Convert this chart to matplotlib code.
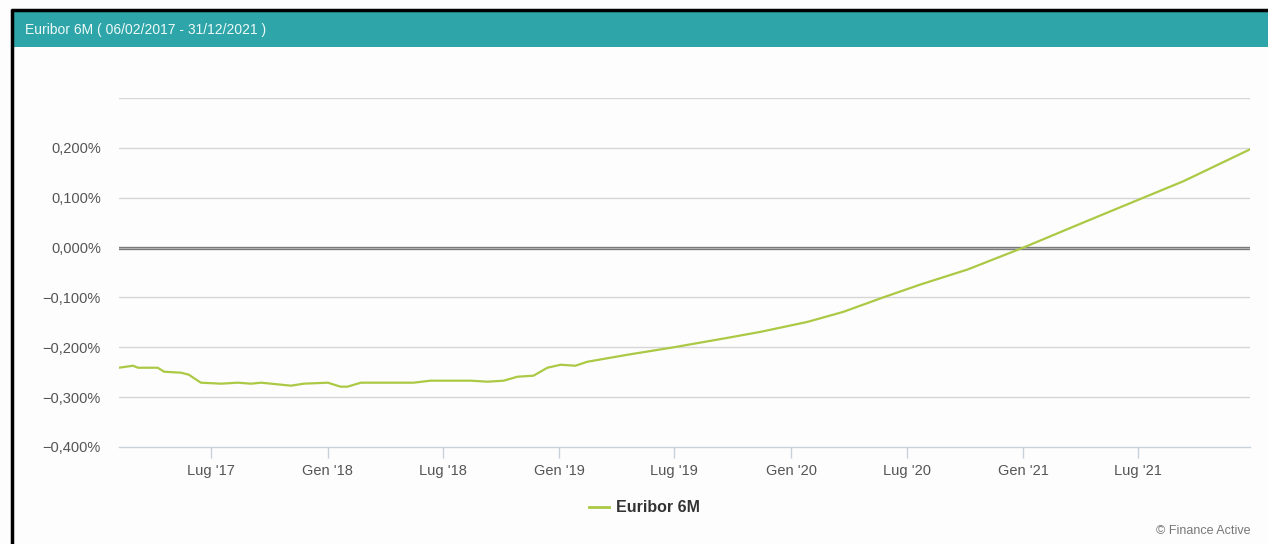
import numpy as np
import pandas as pd
import matplotlib
matplotlib.use("Agg")
import matplotlib.pyplot as plt
from matplotlib.patches import Rectangle
from matplotlib.lines import Line2D
from matplotlib.ticker import FuncFormatter

# Euribor 6M, values (percent)
dates = [
    "2017-02-06", "2017-02-28", "2017-03-08", "2017-04-08", "2017-04-18",
    "2017-05-15", "2017-05-27", "2017-06-15", "2017-07-17", "2017-08-12",
    "2017-09-02", "2017-09-18", "2017-11-04", "2017-11-24", "2018-01-01",
    "2018-01-21", "2018-02-01", "2018-02-22", "2018-04-21", "2018-05-16",
    "2018-06-12", "2018-08-14", "2018-09-10", "2018-10-05", "2018-10-27",
    "2018-11-21", "2018-12-13", "2019-01-03", "2019-01-26", "2019-02-14",
    "2019-04-18", "2019-06-30", "2019-09-23", "2019-11-14", "2020-01-27",
    "2020-03-23", "2020-05-25", "2020-07-23", "2020-10-05", "2021-01-01",
    "2021-04-05", "2021-07-09", "2021-09-10", "2021-12-24",
]
values = [
    -0.241, -0.237, -0.241, -0.241, -0.249,
    -0.251, -0.255, -0.271, -0.273, -0.271,
    -0.273, -0.271, -0.277, -0.273, -0.271,
    -0.279, -0.279, -0.271, -0.271, -0.271,
    -0.267, -0.267, -0.269, -0.267, -0.259,
    -0.257, -0.241, -0.235, -0.237, -0.229,
    -0.215, -0.200, -0.181, -0.169, -0.149,
    -0.129, -0.100, -0.074, -0.044, 0.000,
    0.050, 0.100, 0.133, 0.197,
]
tick_dates = ["2017-07-01", "2018-01-01", "2018-07-01", "2019-01-01",
              "2019-07-01", "2020-01-01", "2020-07-01", "2021-01-01",
              "2021-07-01"]
tick_labels = ["Lug '17", "Gen '18", "Lug '18", "Gen '19", "Lug '19",
               "Gen '20", "Lug '20", "Gen '21", "Lug '21"]
y_ticks = [-0.4, -0.3, -0.2, -0.1, 0.0, 0.1, 0.2, 0.3]

title = "Euribor 6M ( 06/02/2017 - 31/12/2021 )"
series_name = "Euribor 6M"

plt.rcParams["font.family"] = ["Liberation Sans", "DejaVu Sans"]

W, H = 1268, 544
fig = plt.figure(figsize=(W / 100, H / 100), dpi=100)
fig.patch.set_facecolor("#fdfdfd")


def px(x, y):
    return x / W, 1 - y / H


# frame and header band
fig.add_artist(Rectangle(px(13, 47), (W - 13) / W, 35 / H,
                         transform=fig.transFigure, color="#2ea6a9", lw=0))
fig.add_artist(Line2D([11 / W, 1], [1 - 10 / H] * 2, transform=fig.transFigure,
                      color="black", lw=2.5, solid_capstyle="butt"))
fig.add_artist(Line2D([12 / W] * 2, [0, 1 - 9 / H], transform=fig.transFigure,
                      color="black", lw=2.5, solid_capstyle="butt"))
fig.text(*px(25, 30), title, color="#eef8f8", fontsize=10, va="center")

ax = fig.add_axes([119 / W, 1 - 447 / H, (1250 - 119) / W, (447 - 98) / H])
ax.set_facecolor("none")

x = pd.to_datetime(dates)
ax.plot(x, values, color="#abc944", lw=1.6, zorder=3)

ax.set_ylim(-0.4, 0.3)
ax.set_xlim(x[0], x[-1])
ax.set_yticks(y_ticks)
ax.yaxis.set_major_formatter(FuncFormatter(
    lambda v, p: "" if v > 0.25 else f"{v:.3f}%".replace(".", ",").replace("-", "\u2212")))
for v in y_ticks:
    if v == 0:
        ax.axhline(v, color="#7a7a7a", lw=2.4, zorder=2)
        ax.axhline(v, color="#c8c8c8", lw=0.5, zorder=2)
    elif v != -0.4:
        ax.axhline(v, color="#d6d6d6", lw=1, zorder=1)

ax.set_xticks(pd.to_datetime(tick_dates))
ax.set_xticklabels(tick_labels)

for s in ["top", "right", "left"]:
    ax.spines[s].set_visible(False)
ax.spines["bottom"].set_color("#c8d2dc")
ax.spines["bottom"].set_linewidth(1)
ax.tick_params(axis="y", length=0, pad=13, labelsize=10.5, labelcolor="#555555")
ax.tick_params(axis="x", length=8, width=1, color="#c8d2dc", pad=4,
               labelsize=10.5, labelcolor="#555555")

# legend and credit
fig.add_artist(Line2D([589 / W, 609 / W], [1 - 507 / H] * 2,
                      transform=fig.transFigure, color="#abc944", lw=2))
fig.text(*px(616, 507), series_name, fontsize=11.5, fontweight="bold",
         color="#333333", va="center")
fig.text(*px(1250, 531), "\u00a9 Finance Active", fontsize=9,
         color="#777777", va="center", ha="right")

fig.savefig("out.png", dpi=100, facecolor=fig.get_facecolor())
